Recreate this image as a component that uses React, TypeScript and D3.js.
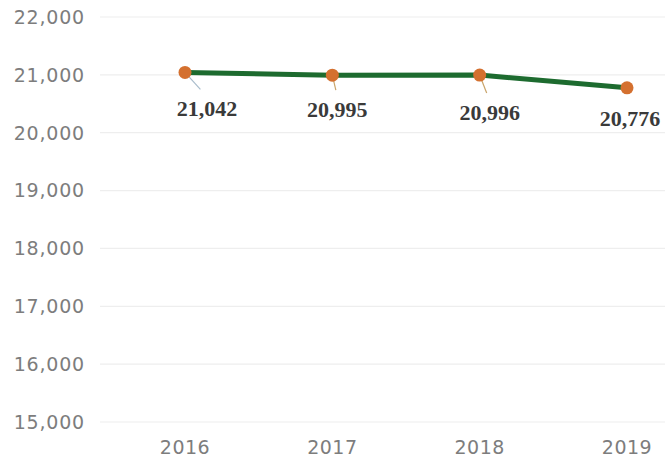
import React from "react";
import * as d3 from "d3";

const years = ["2016", "2017", "2018", "2019"];
const values = [21042, 20995, 20996, 20776];
const valueLabels = ["21,042", "20,995", "20,996", "20,776"];
const yTicks = [15000, 16000, 17000, 18000, 19000, 20000, 21000, 22000];

// label placement nudges (layout, not data)
const labelNudgeX = [22, 5, 10, 3];
const labelNudgeY = [44, 42, 45, 38];

const W = 665;
const H = 466;

export default function App() {
  const x = d3.scalePoint<string>().domain(years).range([185, 627]);
  const y = d3.scaleLinear().domain([15000, 22000]).range([422, 17]);
  const fmt = d3.format(",");
  const line = d3
    .line<number>()
    .x((_, i) => x(years[i]) as number)
    .y((d) => y(d));

  return (
    <svg
      width={W}
      height={H}
      style={{ position: "absolute", left: 0, top: 0, background: "#fff" }}
    >
      {yTicks.map((t) => (
        <g key={t}>
          <line x1={100} x2={665} y1={y(t)} y2={y(t)} stroke="#eeeeee" strokeWidth={1.2} />
          <text
            x={85}
            y={y(t)}
            dy="0.36em"
            textAnchor="end"
            fontFamily="DejaVu Sans"
            fontSize={19}
            letterSpacing={0.8}
            fill="#7d7d7d"
          >
            {fmt(t)}
          </text>
        </g>
      ))}
      {years.map((yr) => (
        <text
          key={yr}
          x={x(yr)}
          y={454}
          textAnchor="middle"
          fontFamily="DejaVu Sans"
          fontSize={19}
          letterSpacing={0.5}
          fill="#7d7d7d"
        >
          {yr}
        </text>
      ))}
      {/* leader lines */}
      {values.map((v, i) => {
        const px = x(years[i]) as number;
        const py = y(v);
        if (i === 3) return null;
        const tx = px + labelNudgeX[i] * 0.7;
        const ty = py + labelNudgeY[i] - 27;
        return (
          <line
            key={"ld" + i}
            x1={px}
            y1={py}
            x2={tx}
            y2={ty}
            stroke={i === 0 ? "#a9bccb" : "#c9a46a"}
            strokeWidth={1.2}
          />
        );
      })}
      <path d={line(values) || ""} fill="none" stroke="#1d6b2f" strokeWidth={5} strokeLinejoin="round" />
      {values.map((v, i) => (
        <circle key={"c" + i} cx={x(years[i])} cy={y(v)} r={6.5} fill="#d4702f" />
      ))}
      {values.map((v, i) => (
        <text
          key={"l" + i}
          x={(x(years[i]) as number) + labelNudgeX[i]}
          y={y(v) + labelNudgeY[i]}
          textAnchor="middle"
          fontFamily="Liberation Serif"
          fontWeight="bold"
          fontSize={22}
          fill="#3a3a3a"
        >
          {valueLabels[i]}
        </text>
      ))}
    </svg>
  );
}
